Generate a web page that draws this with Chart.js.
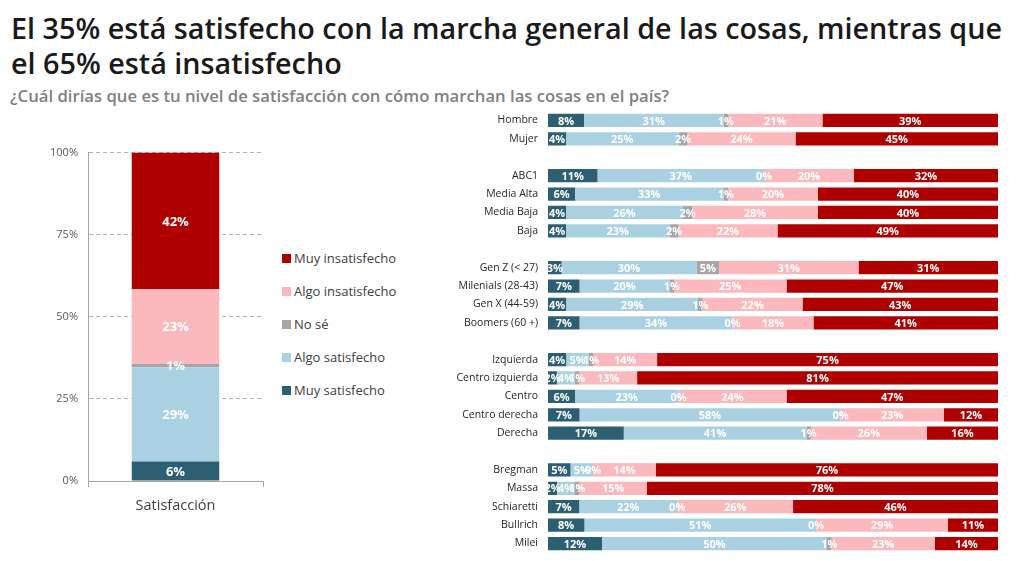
<!DOCTYPE html>
<html><head><meta charset="utf-8">
<script src="https://cdn.jsdelivr.net/npm/chart.js@4.4.1/dist/chart.umd.min.js"></script>
<style>
html,body{margin:0;padding:0;background:#fff;width:1024px;height:561px;overflow:hidden;font-family:'Open Sans','Noto Sans',sans-serif;}
#title{position:absolute;left:11px;top:10px;font-size:28.75px;font-weight:600;color:#1a1a1a;line-height:35px;margin:0;white-space:nowrap;}
#subtitle{position:absolute;left:10px;top:86px;font-size:16.7px;font-weight:600;color:#7f7f7f;line-height:20px;margin:0;white-space:nowrap;}
#left{position:absolute;left:0;top:136px;}
#right{position:absolute;left:440px;top:103px;}
#legend{position:absolute;left:282px;top:248px;margin:0;padding:0;list-style:none;}
#legend li{height:33px;display:flex;align-items:flex-start;font-size:13px;color:#404040;line-height:20px;}
#legend li span.box{display:inline-block;width:9px;height:9px;margin:5.5px 3px 0 0;}
</style></head>
<body>
<div id="title">El 35% está satisfecho con la marcha general de las cosas, mientras que<br>el 65% está insatisfecho</div>
<div id="subtitle">¿Cuál dirías que es tu nivel de satisfacción con cómo marchan las cosas en el país?</div>
<canvas id="left" width="264" height="385"></canvas>
<ul id="legend"></ul>
<canvas id="right" width="565" height="458"></canvas>
<script>
// ---- Data ----
const seriesNames = ["Muy satisfecho","Algo satisfecho","No sé","Algo insatisfecho","Muy insatisfecho"];
const seriesColors = ["#2c5f72","#aad1e1","#a6a6a6","#fbb8bd","#af0000"];

const totalCategory = ["Satisfacción"];
const totalValues = [6, 29, 1, 23, 42];
const leftTicks = [0, 25, 50, 75, 100];

const rowLabels = ["Hombre","Mujer","","ABC1","Media Alta","Media Baja","Baja","",
  "Gen Z (< 27)","Milenials (28-43)","Gen X (44-59)","Boomers (60 +)","",
  "Izquierda","Centro izquierda","Centro","Centro derecha","Derecha","",
  "Bregman","Massa","Schiaretti","Bullrich","Milei"];
const muySatisfecho    = [8,4,null,11,6,4,4,null,3,7,4,7,null,4,2,6,7,17,null,5,2,7,8,12];
const algoSatisfecho   = [31,25,null,37,33,26,23,null,30,20,29,34,null,5,4,23,58,41,null,5,4,22,51,50];
const noSe             = [1,2,null,0,1,2,2,null,5,1,1,0,null,1,1,0,0,1,null,0,1,0,0,1];
const algoInsatisfecho = [21,24,null,20,20,28,22,null,31,25,22,18,null,14,13,24,23,26,null,14,15,26,29,23];
const muyInsatisfecho  = [39,45,null,32,40,40,49,null,31,47,43,41,null,75,81,47,12,16,null,76,78,46,11,14];

Chart.defaults.font.family = "'Open Sans','Noto Sans',sans-serif";

const segLabels = {
  id: 'segLabels',
  afterDatasetsDraw(chart, args, opts) {
    const ctx = chart.ctx;
    const horiz = chart.options.indexAxis === 'y';
    chart.data.datasets.forEach((ds, i) => {
      const meta = chart.getDatasetMeta(i);
      meta.data.forEach((el, j) => {
        const raw = ds.rawValues[j];
        if (raw === null || raw === undefined) return;
        const p = el.getProps(['x','y','base'], true);
        const cx = horiz ? (p.x + p.base) / 2 : p.x;
        const cy = horiz ? p.y : (p.y + p.base) / 2;
        ctx.save();
        ctx.font = opts.font;
        ctx.fillStyle = '#ffffff';
        ctx.textAlign = 'center';
        ctx.textBaseline = 'middle';
        ctx.fillText(raw + '%', cx, cy + 1);
        ctx.restore();
      });
    });
  }
};

// ---- Left chart ----
const totalSum = totalValues.reduce((a,b)=>a+b,0);
const leftChart = new Chart(document.getElementById('left'), {
  type: 'bar',
  data: {
    labels: totalCategory,
    datasets: seriesNames.map((n,i)=>({
      label: n,
      data: [totalValues[i] / totalSum * 100],
      rawValues: [totalValues[i]],
      backgroundColor: seriesColors[i],
      borderWidth: 0,
      barPercentage: 0.5,
      categoryPercentage: 1
    }))
  },
  options: {
    responsive: false,
    animation: false,
    layout: { padding: { top: 8, right: 1 } },
    plugins: {
      tooltip: { enabled: false },
      segLabels: { font: "bold 13px 'Open Sans','Noto Sans',sans-serif" },
      legend: { display: false }
    },
    scales: {
      x: {
        stacked: true,
        grid: { display: true, drawOnChartArea: false, drawTicks: true, tickLength: 6, color: '#a6a6a6' },
        border: { display: true, color: '#a6a6a6' },
        ticks: { font: { size: 14.5 }, color: '#404040', padding: 10 },
        afterFit(s) { s.height = 40; }
      },
      y: {
        stacked: true, min: 0, max: 100,
        afterBuildTicks(s) { s.ticks = leftTicks.map(v => ({ value: v })); },
        ticks: { callback: v => v + '%', font: { size: 11 }, color: '#595959', padding: 10 },
        grid: { color: '#b3b3b3', drawTicks: false },
        border: { display: true, color: '#a6a6a6', dash: [4, 3] },
        afterFit(s) { s.width = 88; }
      }
    }
  },
  plugins: [segLabels]
});

// HTML legend built from the chart's own legend items (reversed order)
const legendEl = document.getElementById('legend');
const items = Chart.defaults.plugins.legend.labels.generateLabels(leftChart).slice().reverse();
items.forEach(it => {
  const li = document.createElement('li');
  const box = document.createElement('span');
  box.className = 'box';
  box.style.background = it.fillStyle;
  li.appendChild(box);
  li.appendChild(document.createTextNode(it.text));
  legendEl.appendChild(li);
});

// ---- Right chart ----
const seriesArrays = [muySatisfecho, algoSatisfecho, noSe, algoInsatisfecho, muyInsatisfecho];
const rowSums = rowLabels.map((_, r) => seriesArrays[0][r] === null ? null : seriesArrays.reduce((a, s) => a + s[r], 0));
new Chart(document.getElementById('right'), {
  type: 'bar',
  data: {
    labels: rowLabels,
    datasets: seriesArrays.map((arr, i) => ({
      label: seriesNames[i],
      data: arr.map((v, r) => v === null ? null : v / rowSums[r] * 100),
      rawValues: arr,
      backgroundColor: seriesColors[i],
      borderWidth: 0,
      barPercentage: 0.72,
      categoryPercentage: 1
    }))
  },
  options: {
    indexAxis: 'y',
    responsive: false,
    animation: false,
    layout: { padding: { top: 5.5, right: 7, bottom: 3.6 } },
    plugins: {
      tooltip: { enabled: false },
      legend: { display: false },
      segLabels: { font: "bold 11px 'Open Sans','Noto Sans',sans-serif" }
    },
    scales: {
      x: { stacked: true, min: 0, max: 100, display: false },
      y: {
        stacked: true,
        grid: { display: false },
        border: { display: false },
        ticks: { autoSkip: false, font: { size: 10.5 }, color: '#262626', padding: 2 },
        afterFit(s) { s.width = 108; }
      }
    }
  },
  plugins: [segLabels]
});
</script>
</body></html>
